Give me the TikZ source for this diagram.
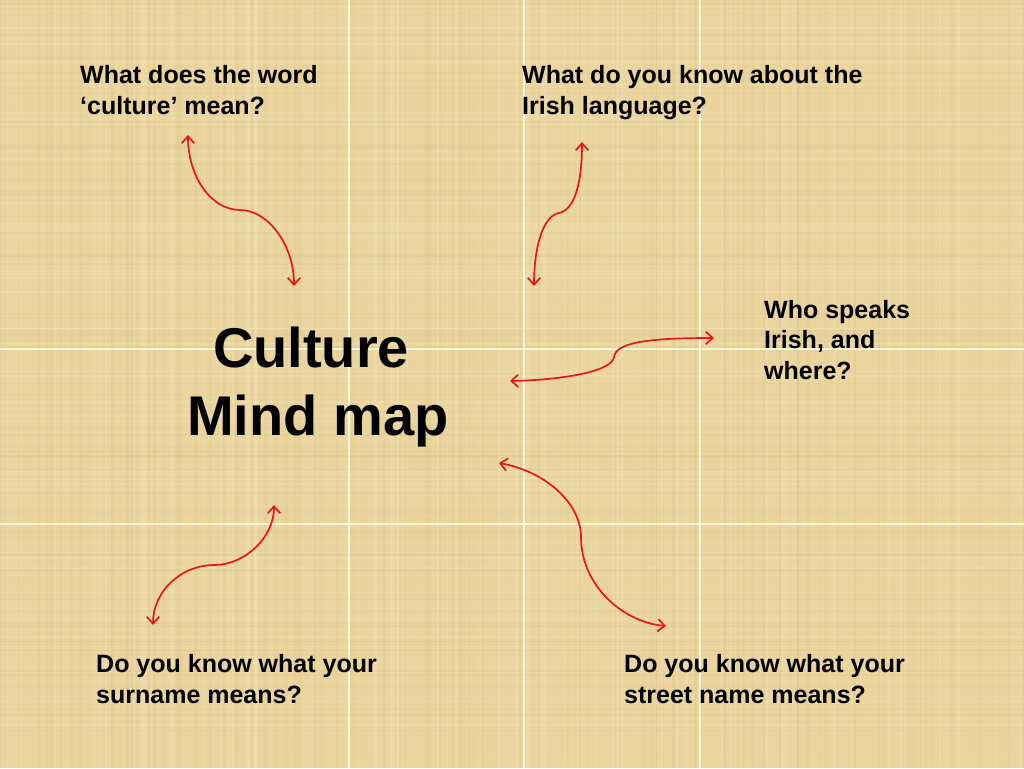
\documentclass[tikz,border=0pt]{standalone}
\usepackage{fontspec}
\setmainfont{Liberation Sans}
\usetikzlibrary{arrows.meta}
\definecolor{papyrus}{HTML}{EAD59F}
\definecolor{papdark}{HTML}{CDB274}
\definecolor{paplight}{HTML}{F7EBC4}
\definecolor{gridline}{HTML}{FFF6DA}
\definecolor{arrowred}{HTML}{E8161B}
\tikzset{
  question/.style={anchor=base west, align=left, font=\fontsize{25}{30.5}\selectfont\bfseries, inner sep=0pt, text=black},
  titlebox/.style={align=center, font=\fontsize{56}{68}\selectfont\bfseries, inner sep=0pt, text=black},
  link/.style={draw=arrowred, line width=1.7pt, {Straight Barb[length=7pt,width=12.5pt]}-{Straight Barb[length=7pt,width=12.5pt]}},
}
\begin{document}
\begin{tikzpicture}[x=1pt,y=-1pt]
\fill[papyrus] (0,0) rectangle (1024,768);
\useasboundingbox (0,0) rectangle (1024,768);
% papyrus texture
\pgfmathsetseed{7}
\foreach \i in {1,...,170}{
  \pgfmathsetmacro{\xx}{rnd*1024}
  \pgfmathsetmacro{\ww}{0.6+rnd*2.5}
  \pgfmathsetmacro{\oo}{0.04+rnd*0.10}
  \draw[papdark, opacity=\oo, line width=\ww pt] (\xx,0) -- (\xx,768);
}
\foreach \i in {1,...,120}{
  \pgfmathsetmacro{\xx}{rnd*1024}
  \pgfmathsetmacro{\ww}{0.6+rnd*2.5}
  \pgfmathsetmacro{\oo}{0.08+rnd*0.18}
  \draw[paplight, opacity=\oo, line width=\ww pt] (\xx,0) -- (\xx,768);
}
\foreach \i in {1,...,110}{
  \pgfmathsetmacro{\yy}{rnd*768}
  \pgfmathsetmacro{\ww}{0.6+rnd*2}
  \pgfmathsetmacro{\oo}{0.04+rnd*0.09}
  \draw[papdark, opacity=\oo, line width=\ww pt] (0,\yy) -- (1024,\yy);
}
\foreach \i in {1,...,80}{
  \pgfmathsetmacro{\yy}{rnd*768}
  \pgfmathsetmacro{\ww}{0.6+rnd*2}
  \pgfmathsetmacro{\oo}{0.08+rnd*0.16}
  \draw[paplight, opacity=\oo, line width=\ww pt] (0,\yy) -- (1024,\yy);
}
% tile seams
\foreach \x in {349,524,700}{\draw[gridline, line width=1.2pt] (\x,0) -- (\x,768);}
\foreach \y in {349,524}{\draw[gridline, line width=1.2pt] (0,\y) -- (1024,\y);}

% texts (base anchor = baseline of the last line)
\node[question] (q1) at (80,114) {What does the word\\‘culture’ mean?};
\node[question] (q2) at (522,114) {What do you know about the\\Irish language?};
\node[question] (q3) at (764,379) {Who speaks\\Irish, and\\where?};
\node[question] (q4) at (96,703) {Do you know what your\\surname means?};
\node[question] (q5) at (624,703) {Do you know what your\\street name means?};
\node[titlebox, anchor=base] (title) at (318,435) {Culture\kern14pt\\Mind map};

% arrow end points
\coordinate (a1s) at (188,135); \coordinate (a1m) at (240,210); \coordinate (a1e) at (294,286);
\coordinate (a2s) at (582,142); \coordinate (a2m) at (559,213); \coordinate (a2e) at (534,286);
\coordinate (a3s) at (714,338); \coordinate (a3m) at (614,357); \coordinate (a3e) at (510,381);
\coordinate (a4s) at (274,505); \coordinate (a4m) at (215,565); \coordinate (a4e) at (153,625);
\coordinate (a5s) at (499,463); \coordinate (a5m) at (581,537); \coordinate (a5e) at (666,626);

\draw[link] (a1s) .. controls (188,178) and (212,210) .. (a1m) .. controls (268,210) and (294,245) .. (a1e);
\draw[link] (a2s) .. controls (582,185) and (574,210) .. (a2m) .. controls (542,216) and (534,250) .. (a2e);
\draw[link] (a3s) .. controls (650,338) and (616,342) .. (a3m) .. controls (612,372) and (560,380) .. (a3e);
\draw[link] (a4s) .. controls (274,540) and (242,565) .. (a4m) .. controls (180,565) and (153,592) .. (a4e);
\draw[link] (a5s) .. controls (548,472) and (581,505) .. (a5m) .. controls (581,585) and (622,622) .. (a5e);
\end{tikzpicture}
\end{document}
